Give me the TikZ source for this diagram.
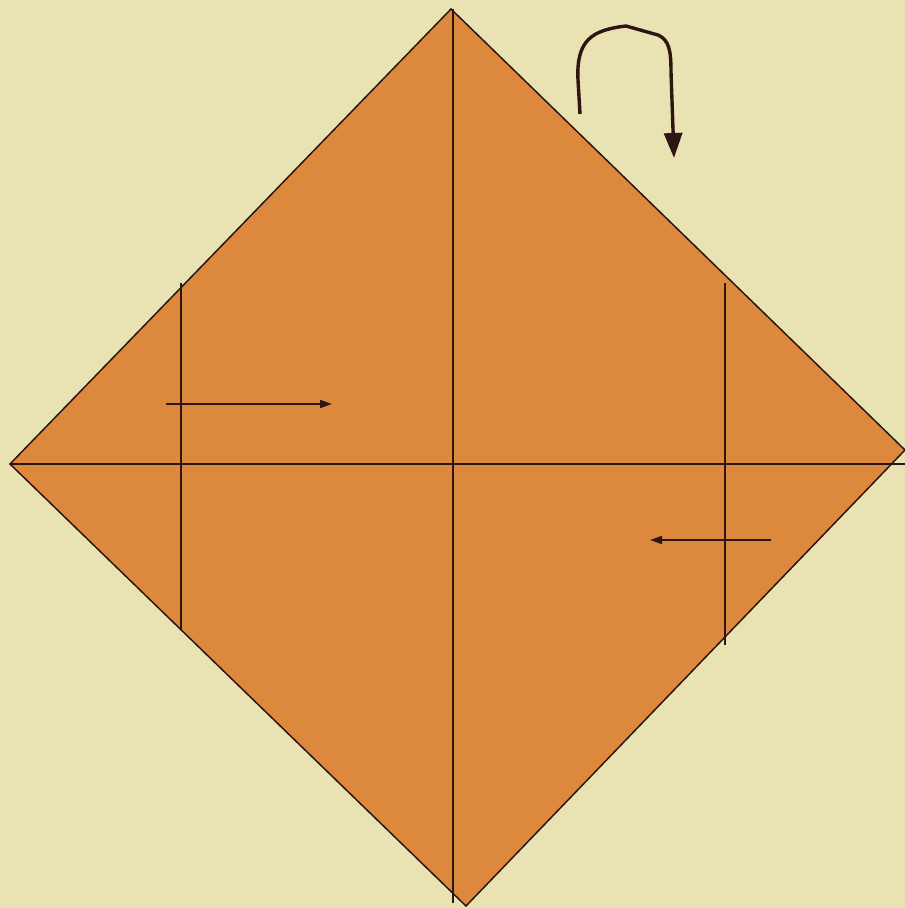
\documentclass[tikz,border=0pt]{standalone}
\usetikzlibrary{arrows.meta}
\definecolor{paperbg}{HTML}{E9E3B3}
\definecolor{foldorange}{HTML}{DC893D}
\definecolor{creaseink}{HTML}{2E1512}

\begin{document}
\begin{tikzpicture}[
  x=1pt,y=-1pt,
  line cap=butt,line join=miter,
  crease/.style={draw=creaseink,line width=1.5pt},
  push/.style={-{Triangle[length=12pt,width=8pt]},draw=creaseink,line width=1.8pt},
  turn/.style={-{Triangle[length=25pt,width=18pt]},draw=creaseink,line width=3.4pt,line join=round}
]
\fill[paperbg] (0,0) rectangle (905,908);
\useasboundingbox (0,0) rectangle (905,908);

% Corners of the square
\coordinate (top) at (451,9);
\coordinate (right) at (905,450);
\coordinate (bottom) at (466,906);
\coordinate (left) at (10,464);

% Paper
\draw[crease,fill=foldorange] (top)--(right)--(bottom)--(left)--cycle;

% Creases
\coordinate (midtop) at (453,9);
\coordinate (midbot) at (453,903);
\coordinate (rightend) at (905,464);
\draw[crease] (midtop)--(midbot);
\draw[crease] (left)--(rightend);
\coordinate (ltop) at (181,283);
\coordinate (lbot) at (181,630);
\coordinate (rtop) at (725,283);
\coordinate (rbot) at (725,645);
\draw[crease] (ltop)--(lbot);
\draw[crease] (rtop)--(rbot);

% Fold arrows
\coordinate (la) at (166,404);
\coordinate (lb) at (332,404);
\coordinate (ra) at (771,540);
\coordinate (rb) at (650,540);
\draw[push] (la)--(lb);
\draw[push] (ra)--(rb);

% Turn over
\coordinate (ts) at (580,114);
\coordinate (te) at (674,158);
\draw[turn] (ts)--(578,80) .. controls (576,40) and (592,30) .. (626,26)
  -- (658,35) .. controls (669,40) and (671,50) .. (671,72) -- (te);
\end{tikzpicture}
\end{document}
